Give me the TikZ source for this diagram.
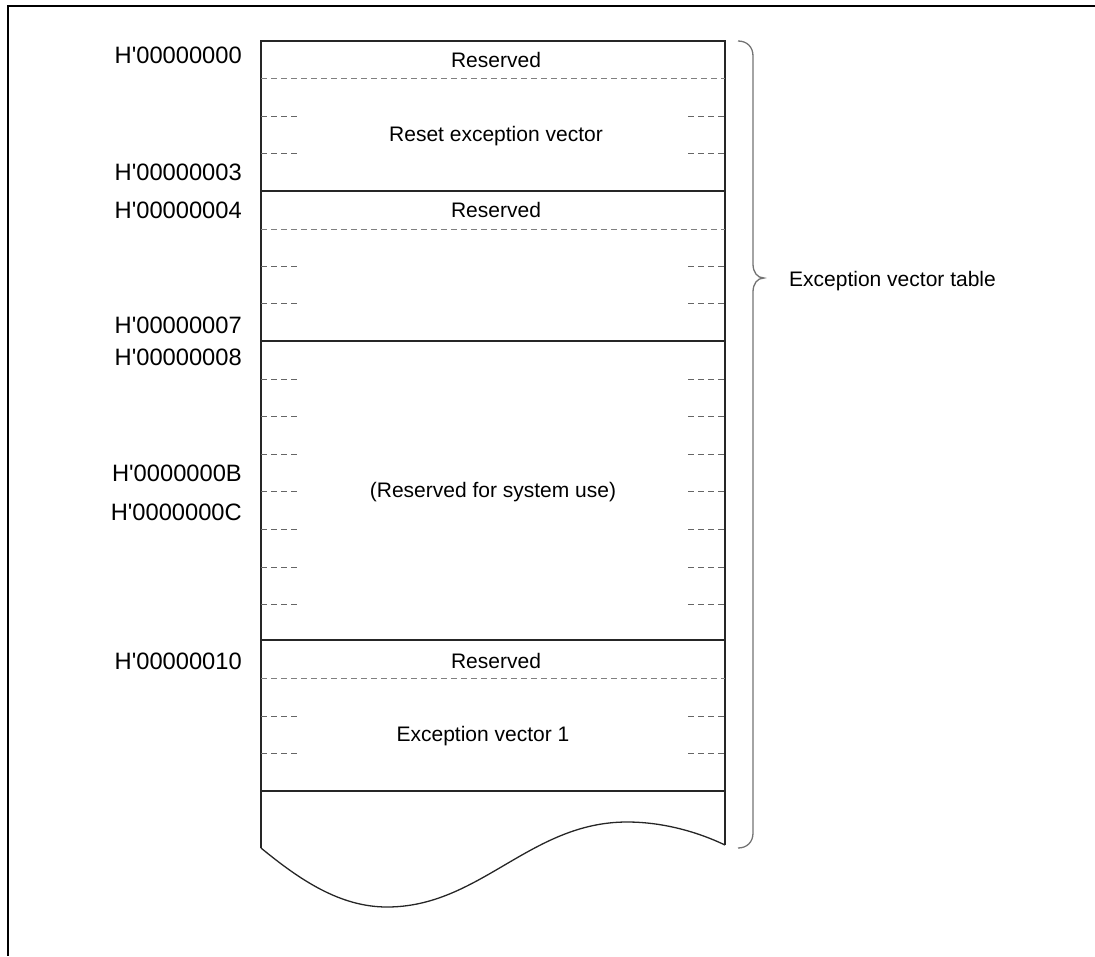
\documentclass[tikz,border=0pt]{standalone}
\usepackage{fontspec}
\setmainfont{Liberation Sans}[Ligatures=TeXOff]
\begin{document}
\begin{tikzpicture}[x=1pt,y=-1pt,
  frame/.style={line width=2.4pt,black},
  cell/.style={line width=1.3pt,black!85},
  fulldash/.style={line width=1pt,black!50,dash pattern=on 6pt off 4pt},
  tickdash/.style={line width=1pt,black!60,dash pattern=on 6pt off 4pt},
  addr/.style={anchor=base east,inner sep=0pt,font=\fontsize{23.7}{28}\selectfont},
  txt/.style={anchor=base,inner sep=0pt,font=\fontsize{21}{25}\selectfont},
  brace/.style={line width=1.3pt,black!55}]
\useasboundingbox (0,0) rectangle (1095,956);

% outer frame (top and left edges)
\draw[frame] (7,6) -- (1095,6);
\draw[frame] (8,6) -- (8,956);

% memory map column
\coordinate (tl) at (261,41);
\coordinate (tr) at (725,41);
\coordinate (bl) at (261,848);
\coordinate (br) at (725,845);
\draw[cell] (bl) -- (tl) -- (tr) -- (br);
\draw[cell] (bl) .. controls (300,880) and (340,907) .. (387,907)
                 .. controls (480,907) and (530,822) .. (627,822)
                 .. controls (665,822) and (700,833) .. (br);
\foreach \y in {191,341,640,791}
  \draw[cell] (261,\y) -- (725,\y);

% byte boundaries under the reserved words
\foreach \y in {78,229,678}
  \draw[fulldash] (261,\y) -- (725,\y);

% short byte ticks on both sides
\foreach \y in {116,153,266,303,379,416,454,491,529,567,604,716,753} {
  \draw[tickdash] (261,\y) -- (298,\y);
  \draw[tickdash] (688,\y) -- (725,\y);
}

% address labels
\node[addr] (a0)  at (242,63)  {H'00000000};
\node[addr] (a3)  at (242,180) {H'00000003};
\node[addr] (a4)  at (242,218) {H'00000004};
\node[addr] (a7)  at (242,333) {H'00000007};
\node[addr] (a8)  at (242,365) {H'00000008};
\node[addr] (aB)  at (242,481) {H'0000000B};
\node[addr] (aC)  at (242,520) {H'0000000C};
\node[addr] (a10) at (242,669) {H'00000010};

% cell contents
\node[txt] (r0)  at (496,67.5)  {Reserved};
\node[txt] (rv)  at (496,141.5) {Reset exception vector};
\node[txt] (r4)  at (496,217.5) {Reserved};
\node[txt] (sys) at (493,497.5) {(Reserved for system use)};
\node[txt] (r10) at (496,668.5) {Reserved};
\node[txt] (ev1) at (483,741.5) {Exception vector 1};

% brace and its label
\draw[brace] (738,41) .. controls (747,41) and (753,47) .. (753,56)
  -- (753,264) .. controls (753,272) and (757,278) .. (764,278)
  .. controls (757,278) and (753,284) .. (753,292)
  -- (753,833) .. controls (753,842) and (747,848) .. (738,848);
\node[txt,anchor=base west] (evt) at (789,286.5) {Exception vector table};
\end{tikzpicture}
\end{document}
